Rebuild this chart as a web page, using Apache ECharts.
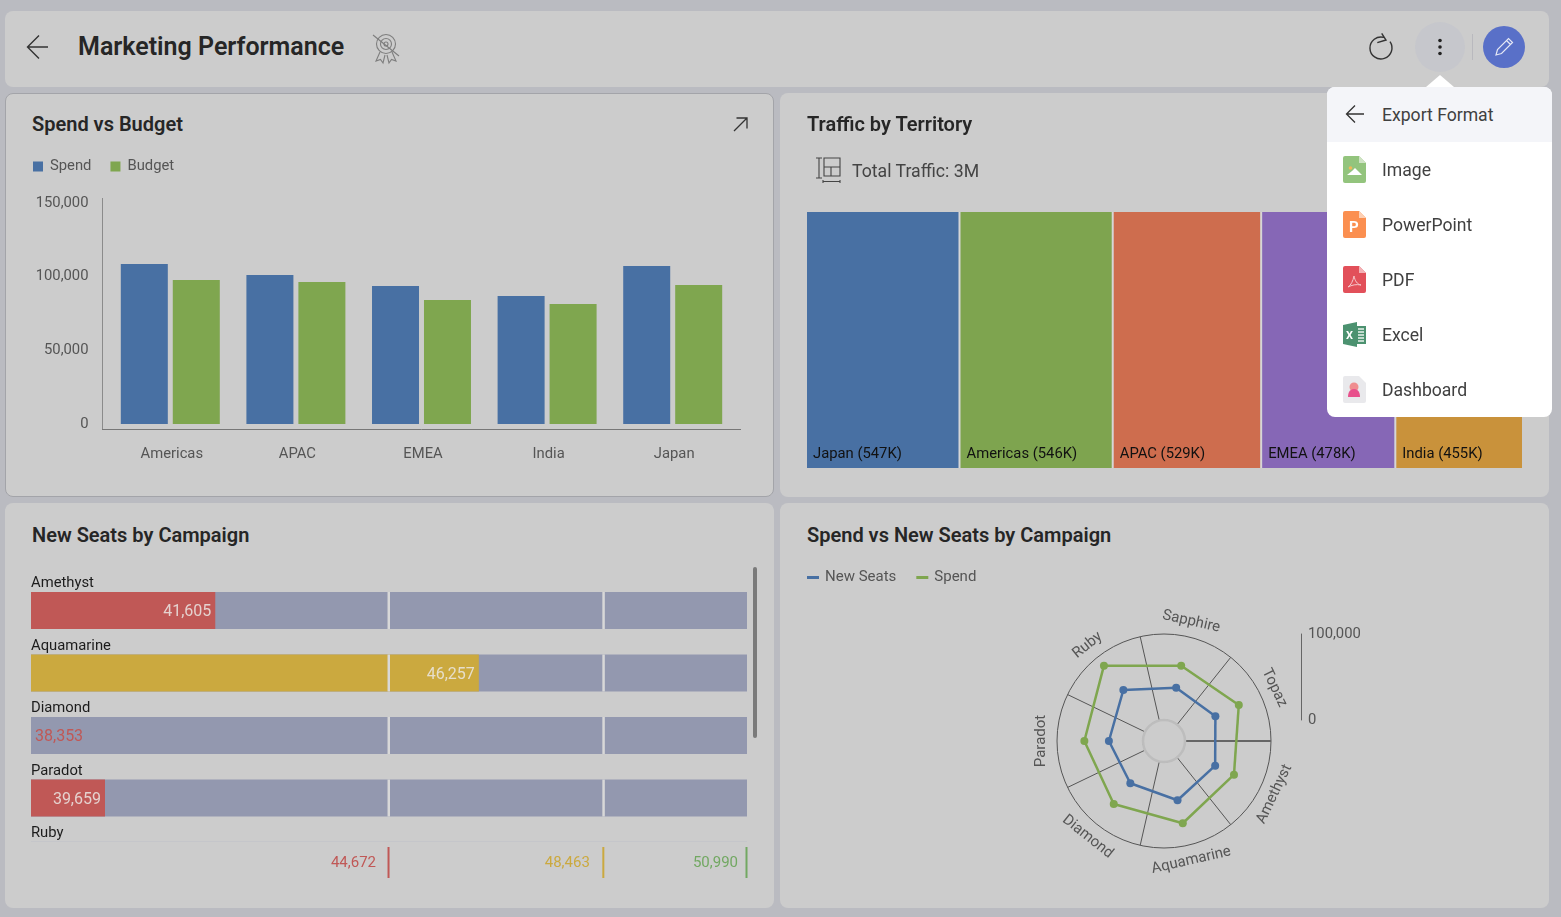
<!DOCTYPE html>
<html lang="en">
<head>
  <meta charset="UTF-8">
  <title>Marketing Performance</title>
  <script src="https://cdn.jsdelivr.net/npm/echarts@6/dist/echarts.min.js"></script>
  <style>
    html, body { margin: 0; padding: 0; width: 1561px; height: 917px; overflow: hidden; background: #babbc1; font-family: Roboto, sans-serif; }
    .card { position: absolute; background: #cccccc; border-radius: 8px; box-sizing: border-box; }
    .card h2 { position: absolute; margin: 0; font-size: 20px; font-weight: 600; color: #262626; line-height: 24px; white-space: nowrap; }
    .chart { position: absolute; left: 0; top: 0; width: 100%; height: 100%; }
    #head { left: 5px; top: 11px; width: 1544px; height: 76px; }
    #head h1 { position: absolute; left: 73px; top: 19.5px; margin: 0; font-size: 25px; line-height: 32px; font-weight: 600; color: #262626; white-space: nowrap; }
    #c1 { left: 5px; top: 93px; width: 769px; height: 404px; border: 1px solid #a3a4a9; }
    #c2 { left: 780px; top: 93px; width: 769px; height: 404px; }
    #c3 { left: 5px; top: 503px; width: 769px; height: 405px; }
    #c4 { left: 780px; top: 503px; width: 769px; height: 405px; }
    .ico { position: absolute; overflow: visible; }
    #total { position: absolute; left: 72px; top: 66px; font-size: 17.7px; line-height: 24px; color: #444; white-space: nowrap; }
    #scroll { position: absolute; left: 748px; top: 64px; width: 4px; height: 171px; border-radius: 2px; background: #7a7a7a; z-index: 3; }
    #dotsbg { position: absolute; left: 1415px; top: 22px; width: 50px; height: 50px; border-radius: 50%; background: #c6c7cc; }
    #sep { position: absolute; left: 1472px; top: 34px; width: 1px; height: 26px; background: #b9b9be; }
    #pen { position: absolute; left: 1483px; top: 26px; width: 42px; height: 42px; border-radius: 50%; background: #5970c8; }
    #menu { position: absolute; left: 1327px; top: 87px; width: 225px; height: 330px; background: #fff; border-radius: 8px; z-index: 5; }
    #menu:before { content: ""; position: absolute; left: 99px; top: -12px; border-left: 14px solid transparent; border-right: 14px solid transparent; border-bottom: 12px solid #fff; }
    .row { position: relative; height: 55px; line-height: 57px; padding-left: 55px; font-size: 17.6px; color: #404040; white-space: nowrap; }
    .row.top { background: #f4f5f9; border-radius: 8px 8px 0 0; }
    .row svg { position: absolute; left: 16px; top: 14px; }
  </style>
</head>
<body>

<div class="card" id="head">
  <svg class="ico" style="left:21px;top:23px" width="24" height="26" viewBox="0 0 24 26" fill="none" stroke="#333" stroke-width="1.4"><path d="M22 13H2M13 1.5 1.5 13 13 24.5"/></svg>
  <h1>Marketing Performance</h1>
  <svg class="ico" style="left:366px;top:21px" width="30" height="32" viewBox="0 0 30 32" fill="none" stroke="#7e7e7e" stroke-width="1.1">
    <circle cx="15" cy="12" r="9.5"/><circle cx="15" cy="12" r="5.5"/><circle cx="15" cy="12" r="2"/>
    <path d="M9 20 5 29l4.5-1.5L12 31l2-8M21 20l4 9-4.5-1.5L18 31l-2-8M2 3l26 21"/>
  </svg>
  <svg class="ico" style="left:1363px;top:21px" width="26" height="30" viewBox="0 0 26 30" fill="none" stroke="#333" stroke-width="1.4"><path d="M16 5.4A11 11 0 1 0 22 9.7M13.7 1.3 18 8l-8.7 2.7"/></svg>
</div>
<div id="dotsbg"></div>
<svg class="ico" style="left:1436px;top:38px" width="8" height="18" viewBox="0 0 8 18" fill="#222"><circle cx="4" cy="2.5" r="1.8"/><circle cx="4" cy="9" r="1.8"/><circle cx="4" cy="15.5" r="1.8"/></svg>
<div id="sep"></div>
<div id="pen">
  <svg class="ico" style="left:12px;top:11px" width="19" height="19" viewBox="0 0 19 19" fill="none" stroke="#e6e8f5" stroke-width="1.2"><path d="M1 18l1.5-5.5L13.5 1.5l4 4L6.5 16.5zM11.5 3.5l4 4"/></svg>
</div>

<div class="card" id="c1">
  <h2 style="left:26px;top:18px">Spend vs Budget</h2>
  <div class="chart" id="chartBars"></div>
  <svg class="ico" style="left:727px;top:23px" width="15" height="15" viewBox="0 0 15 15" fill="none" stroke="#333" stroke-width="1.3"><path d="M1 14 14 1M3.5 1H14V11.5"/></svg>
</div>

<div class="card" id="c2">
  <h2 style="left:27px;top:19px">Traffic by Territory</h2>
  <svg class="ico" style="left:35px;top:64px" width="27" height="26" viewBox="0 0 27 26" fill="none" stroke="#444" stroke-width="1.1"><path d="M1 1h6M4 1v20M1 21h6M9 1h16v18H9zM9 10h16M16 10v9M8 24.5h17M8 23v3M25 23v3"/></svg>
  <div id="total">Total Traffic: 3M</div>
  <div class="chart" id="chartTree"></div>
</div>

<div class="card" id="c3">
  <h2 style="left:27px;top:20px">New Seats by Campaign</h2>
  <div class="chart" id="chartBullet"></div>
  <div id="scroll"></div>
</div>

<div class="card" id="c4">
  <h2 style="left:27px;top:20px">Spend vs New Seats by Campaign</h2>
  <div class="chart" id="chartPolar"></div>
</div>

<div id="menu">
  <div class="row top">
    <svg style="top:17px;left:18px" width="20" height="20" viewBox="0 0 20 20" fill="none" stroke="#333" stroke-width="1.3"><path d="M19 10H1.5M10 1.5 1.5 10l8.5 8.5"/></svg>
    Export Format
  </div>
  <div class="row">
    <svg width="23" height="27" viewBox="0 0 23 27"><path d="M2 0h14l7 7v18a2 2 0 0 1-2 2H2a2 2 0 0 1-2-2V2a2 2 0 0 1 2-2z" fill="#93c47d"/><path d="M16 0l7 7h-7z" fill="#cfe3c4"/><circle cx="7.5" cy="12" r="1.8" fill="#f1b85a"/><path d="M4 19l5-4 3-3 3 3 4 4z" fill="#fff"/></svg>
    Image
  </div>
  <div class="row">
    <svg width="23" height="27" viewBox="0 0 23 27"><path d="M2 0h14l7 7v18a2 2 0 0 1-2 2H2a2 2 0 0 1-2-2V2a2 2 0 0 1 2-2z" fill="#fb8f50"/><path d="M16 0l7 7h-7z" fill="#fdd0b4"/><text x="6" y="21" font-family="Roboto" font-weight="700" font-size="15" fill="#fff">P</text></svg>
    PowerPoint
  </div>
  <div class="row">
    <svg width="23" height="27" viewBox="0 0 23 27"><path d="M2 0h14l7 7v18a2 2 0 0 1-2 2H2a2 2 0 0 1-2-2V2a2 2 0 0 1 2-2z" fill="#e2505a"/><path d="M16 0l7 7h-7z" fill="#f4b2b6"/><path d="M5 21c3-2 5-6 6-11 1 5 3 8 7 9-5-1-9 0-13 2z" fill="none" stroke="#f6c9cc" stroke-width="1"/></svg>
    PDF
  </div>
  <div class="row">
    <svg width="23" height="27" viewBox="0 0 23 27"><path d="M0 4l14-3v25L0 23z" fill="#4c9270"/><rect x="13" y="5" width="10" height="18" fill="#4c9270"/><path d="M15 8h6M15 11h6M15 14h6M15 17h6M15 20h6" stroke="#e8f2ec" stroke-width="1.6"/><text x="3" y="18" font-family="Roboto" font-weight="700" font-size="11" fill="#fff">X</text></svg>
    Excel
  </div>
  <div class="row">
    <svg width="23" height="27" viewBox="0 0 23 27"><path d="M2 0h14l7 7v18a2 2 0 0 1-2 2H2a2 2 0 0 1-2-2V2a2 2 0 0 1 2-2z" fill="#e9e9ec"/><circle cx="11" cy="11" r="4.5" fill="#ef8d8f"/><path d="M5 21c0-6 3-8 6-8s6 2 6 8z" fill="#e8508c"/></svg>
    Dashboard
  </div>
</div>

<script type="text/javascript">
// Spend vs Budget
var regions = ['Americas', 'APAC', 'EMEA', 'India', 'Japan'];
var spendByRegion = [108600, 101100, 93700, 86900, 107300];
var budgetByRegion = [97800, 96400, 84200, 81500, 94400];

// Traffic by Territory
var territories = ['Japan', 'Americas', 'APAC', 'EMEA', 'India'];
var trafficK = [547, 546, 529, 478, 455];

// New Seats by Campaign (the list is scrolled, Ruby's value is out of view)
var seatRows = ['Amethyst', 'Aquamarine', 'Diamond', 'Paradot', 'Ruby'];
var seatValues = [41605, 46257, 38353, 39659, null];
var seatMin = 38353;
var seatThresholds = [44672, 48463, 50990];

// Spend vs New Seats, clockwise from the 3 o'clock spoke
var campaigns = ['Amethyst', 'Aquamarine', 'Diamond', 'Paradot', 'Ruby', 'Sapphire', 'Topaz'];
var newSeats = [41605, 46257, 38353, 39659, 51400, 39200, 41900];
var campaignSpend = [65900, 73700, 69300, 68200, 87600, 65400, 72100];

var BLUE = '#4870a3';
var GREEN = '#7fa64f';
var TEXT = '#555555';
var FONT = 'Roboto, sans-serif';
var treeColors = [BLUE, '#7ea44f', '#ce6d4e', '#8667b6', '#c9923b'];
var thresholdColors = ['#c05856', '#cba93f', '#72a862'];
var thresholdLabelGaps = [13, 14, 9];

function thresholdColor(v) {
  for (var i = 0; i < seatThresholds.length; i++) {
    if (v <= seatThresholds[i]) return thresholdColors[i];
  }
  return thresholdColors[2];
}

function fmt(v) {
  return v.toLocaleString('en-US');
}

// --- bars ---
var chartBars = echarts.init(document.getElementById('chartBars'));
chartBars.setOption({
  animation: false,
  textStyle: { fontFamily: FONT },
  legend: {
    left: 27, top: 65, padding: 0, itemWidth: 10, itemHeight: 10, itemGap: 19,
    icon: 'rect', textStyle: { color: TEXT, fontSize: 14.8, padding: [0, 0, 0, 2] },
    data: ['Spend', 'Budget']
  },
  grid: { left: 101.5, top: 109, width: 628, height: 221 },
  xAxis: {
    type: 'category', data: regions,
    axisLine: { show: false }, axisTick: { show: false },
    axisLabel: { color: TEXT, fontSize: 14.8, margin: 23, padding: [0, 0, 0, 3] }
  },
  yAxis: {
    type: 'value', min: 0, max: 150000, interval: 50000,
    axisLine: { show: false }, axisTick: { show: false }, splitLine: { show: false },
    axisLabel: { color: TEXT, fontSize: 14.8, margin: 19, padding: [6, 0, 0, 0], formatter: fmt }
  },
  graphic: [
    { type: 'line', shape: { x1: 96.5, y1: 104, x2: 96.5, y2: 335 }, style: { stroke: '#8b8b8b', lineWidth: 1 } },
    { type: 'line', shape: { x1: 96, y1: 335.5, x2: 735, y2: 335.5 }, style: { stroke: '#777777', lineWidth: 1 } }
  ],
  series: [
    { name: 'Spend', type: 'bar', data: spendByRegion, barWidth: 47, barGap: '10.6%', itemStyle: { color: BLUE } },
    { name: 'Budget', type: 'bar', data: budgetByRegion, barWidth: 47, barGap: '10.6%', itemStyle: { color: GREEN } }
  ]
});

// --- treemap ---
var chartTree = echarts.init(document.getElementById('chartTree'));
chartTree.setOption({
  animation: false,
  textStyle: { fontFamily: FONT },
  series: [{
    type: 'treemap', left: 27, top: 119, width: 715, height: 256,
    roam: false, nodeClick: false, breadcrumb: { show: false },
    squareRatio: 0.1, // keeps every territory in its own full height column
    itemStyle: { gapWidth: 2, borderWidth: 0, borderColor: '#d6d6d6' },
    label: {
      show: true, position: 'insideBottomLeft', color: '#111', fontSize: 14.8,
      fontFamily: FONT, padding: [0, 0, 6, 6],
      formatter: function (p) { return p.name + ' (' + p.value + 'K)'; }
    },
    data: territories.map(function (t, i) {
      return { name: t, value: trafficK[i], itemStyle: { color: treeColors[i] } };
    })
  }]
});

// --- bullet rows ---
var chartBullet = echarts.init(document.getElementById('chartBullet'));
var insideLabel = { show: true, position: 'insideRight', distance: 4, offset: [0, 1.5], color: 'rgba(235,232,228,0.85)', fontSize: 16, formatter: function (p) { return fmt(p.value); } };
chartBullet.setOption({
  animation: false,
  textStyle: { fontFamily: FONT },
  grid: [
    { left: 26, top: 76.25, width: 716, height: 312.5 },
    { left: 26, top: 344, width: 716, height: 31 }
  ],
  xAxis: [
    { type: 'value', gridIndex: 0, min: seatMin, max: seatThresholds[2], show: false },
    { type: 'value', gridIndex: 1, min: seatMin, max: seatThresholds[2], show: false }
  ],
  yAxis: [
    { type: 'category', gridIndex: 0, data: seatRows, inverse: true, show: false },
    { type: 'category', gridIndex: 1, data: ['limits'], show: false }
  ],
  graphic: [
    { type: 'rect', shape: { x: 26, y: 338, width: 716, height: 1 }, style: { fill: '#c5c6ca' } }
  ],
  series: [
    {
      type: 'bar', barWidth: 37, barGap: '-100%', silent: true,
      itemStyle: { color: '#9398af' },
      data: seatValues.map(function (v) { return v === null ? null : seatThresholds[2]; })
    },
    {
      type: 'bar', barWidth: 37, barGap: '-100%',
      data: seatValues.map(function (v) {
        if (v === null) return null;
        var c = thresholdColor(v);
        return {
          value: v,
          itemStyle: { color: c },
          label: v === seatMin
            ? Object.assign({}, insideLabel, { position: 'right', color: c })
            : insideLabel
        };
      })
    },
    {
      // row names above each bar, and the light gaps at the limits
      type: 'custom', xAxisIndex: 0, yAxisIndex: 0, z: 5, clip: false,
      data: seatRows.map(function (r, i) { return [seatMin, i]; }),
      encode: { x: 0, y: 1 },
      renderItem: function (params, api) {
        var i = api.value(1);
        var p = api.coord([seatMin, i]);
        var band = api.size([0, 1])[1];
        var kids = [{
          type: 'text', x: p[0], y: p[1] - band / 2 + 4.5,
          style: { text: seatRows[i], fill: '#1c1c1c', font: '14.8px ' + FONT, align: 'left', verticalAlign: 'middle' }
        }];
        if (seatValues[i] !== null) {
          seatThresholds.slice(0, 2).forEach(function (t) {
            var x = api.coord([t, i])[0];
            kids.push({
              type: 'rect',
              shape: { x: x - 1.5, y: p[1] - 18.5, width: 2.5, height: 37 },
              style: { fill: '#d8d8d8' }
            });
          });
        }
        return { type: 'group', children: kids };
      }
    },
    {
      // limit ticks under the list
      type: 'custom', xAxisIndex: 1, yAxisIndex: 1, clip: false,
      data: seatThresholds.map(function (t) { return [t, 0]; }),
      encode: { x: 0, y: 1 },
      renderItem: function (params, api) {
        var t = api.value(0);
        var p = api.coord([t, 0]);
        var c = thresholdColors[params.dataIndex];
        var h = api.size([0, 1])[1];
        return {
          type: 'group',
          children: [
            { type: 'rect', shape: { x: p[0] - 1.5, y: p[1] - h / 2, width: 2, height: h }, style: { fill: c } },
            { type: 'text', x: p[0] - thresholdLabelGaps[params.dataIndex], y: p[1] + 1, style: { text: fmt(t), fill: c, font: '15px ' + FONT, align: 'right', verticalAlign: 'middle' } }
          ]
        };
      }
    }
  ]
});

// --- polar lines ---
var chartPolar = echarts.init(document.getElementById('chartPolar'));

function closing(values) {
  // line from the last campaign back to the first one
  var n = campaigns.length - 1;
  return [[values[n], campaigns[n]], [values[0], campaigns[0]]];
}

function polarLine(name, values, color, z) {
  return [
    {
      name: name, type: 'line', coordinateSystem: 'polar', data: values, z: z,
      symbol: 'circle', symbolSize: 8, lineStyle: { color: color, width: 2.5 }, itemStyle: { color: color }
    },
    {
      type: 'line', coordinateSystem: 'polar', data: closing(values), encode: { radius: 0, angle: 1 }, z: z,
      symbol: 'none', lineStyle: { color: color, width: 2.5 }
    }
  ];
}

chartPolar.setOption({
  animation: false,
  textStyle: { fontFamily: FONT },
  legend: {
    left: 27, top: 67, padding: 0, itemWidth: 12, itemHeight: 3, itemGap: 20,
    icon: 'rect', textStyle: { color: TEXT, fontSize: 15, padding: [0, 0, 0, 1] },
    data: ['New Seats', 'Spend']
  },
  polar: { center: [384, 238], radius: [21, 107] },
  angleAxis: {
    type: 'category', data: campaigns, startAngle: 0, boundaryGap: true,
    axisTick: { show: false }, axisLabel: { show: false },
    axisLine: { lineStyle: { color: '#555', width: 1 } },
    splitLine: { show: true, lineStyle: { color: '#555', width: 1 } }
  },
  radiusAxis: {
    min: 0, max: 100000,
    axisLine: { show: false }, axisTick: { show: false }, axisLabel: { show: false }, splitLine: { show: false }
  },
  // separate little scale to the right of the circle
  grid: { left: 521, top: 131, width: 1, height: 86 },
  xAxis: { type: 'value', show: false, min: 0, max: 1 },
  yAxis: {
    type: 'value', min: 0, max: 100000, interval: 100000, position: 'right',
    axisLine: { show: true, lineStyle: { color: '#666' } }, axisTick: { show: false }, splitLine: { show: false },
    axisLabel: { color: TEXT, fontSize: 14.8, margin: 6, padding: [5, 0, 0, 0], formatter: fmt }
  },
  graphic: [
    { type: 'line', shape: { x1: 405, y1: 238, x2: 491, y2: 238 }, style: { stroke: '#666', lineWidth: 2 }, z: 1 },
    { type: 'circle', shape: { cx: 384, cy: 238, r: 21 }, style: { fill: '#cccccc', stroke: '#bdbdbd', lineWidth: 2.5 }, z: 2 }
  ],
  series: polarLine('New Seats', newSeats, BLUE, 4).concat(polarLine('Spend', campaignSpend, GREEN, 3)).concat([{
    // labels follow the circle, one word per sector
    type: 'custom', coordinateSystem: 'polar', silent: true, clip: false,
    data: campaigns.map(function (c, i) { return [100000, i]; }),
    encode: { radius: 0, angle: 1 },
    renderItem: function (params, api) {
      var i = params.dataIndex;
      var cs = params.coordSys;
      var deg = -(i + 0.5) * 360 / campaigns.length;
      if (deg < -180) deg += 360;
      var rad = deg * Math.PI / 180;
      var rot = deg > 0 ? deg - 90 : deg + 90;
      if (deg <= -179.9) rot = 90;
      return {
        type: 'text',
        x: cs.cx + 122.5 * Math.cos(rad),
        y: cs.cy - 122.5 * Math.sin(rad),
        rotation: rot * Math.PI / 180,
        style: { text: campaigns[i], fill: TEXT, font: '15px ' + FONT, align: 'center', verticalAlign: 'middle' }
      };
    }
  }])
});
</script>
</body>
</html>
